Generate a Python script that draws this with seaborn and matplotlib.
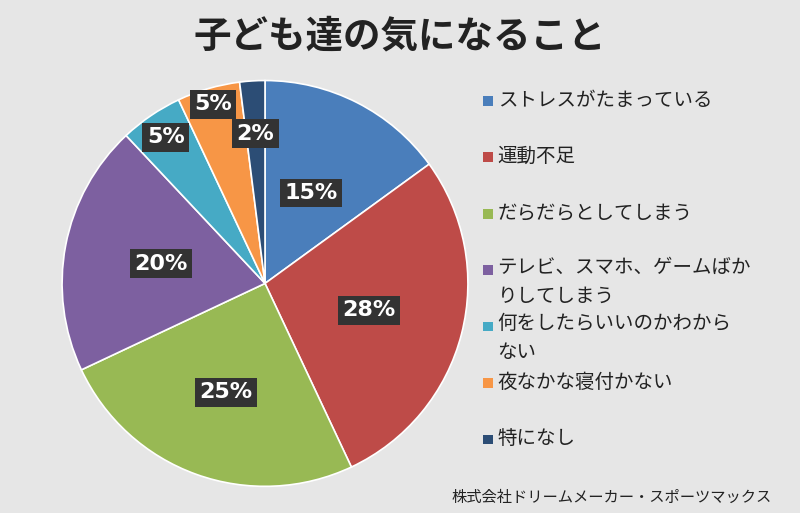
import numpy as np
import matplotlib.pyplot as plt
import matplotlib.patches as mpatches
import seaborn as sns

sns.set_theme(style='white')
plt.rcParams['font.family'] = 'Noto Sans CJK JP'

# ── data ─────────────────────────────────────────────
categories = ['ストレスがたまっている', '運動不足', 'だらだらとしてしまう',
              'テレビ、スマホ、ゲームばか\nりしてしまう', '何をしたらいいのかわから\nない',
              '夜なかな寝付かない', '特になし']
values = [15, 28, 25, 20, 5, 5, 2]
label_radius = [0.50, 0.53, 0.57, 0.52, 0.87, 0.92, 0.74]
colours = ['#4a7ebb', '#be4b48', '#98b954', '#7d60a0', '#46aac5', '#f79646', '#2c4d75']

fig = plt.figure(figsize=(8, 5.13), dpi=100)
fig.patch.set_facecolor('#e6e6e6')

ax = fig.add_axes([0.075, 0.048, 0.5125, 0.799])
wedges, _ = ax.pie(values, colors=colours, startangle=90, counterclock=False,
                   wedgeprops=dict(edgecolor='white', linewidth=1.2))
ax.set_aspect('equal')
ax.set_xlim(-1.01, 1.01)
ax.set_ylim(-1.01, 1.01)

# percentage labels on dark boxes
start = 90.0
total = sum(values)
for v, r in zip(values, label_radius):
    mid = np.deg2rad(start - v / total * 360 / 2)
    start -= v / total * 360
    ax.text(r * np.cos(mid), r * np.sin(mid), f'{v}%', ha='center', va='center',
            color='white', fontsize=16, fontweight='bold', family='DejaVu Sans',
            bbox=dict(boxstyle='square,pad=0.2', facecolor='#333333', edgecolor='none'))

fig.text(0.50, 0.93, '子ども達の気になること', ha='center', va='center',
         fontsize=27, fontweight='bold', color='#222222')

# legend drawn by hand to keep the uniform spacing of the reference
y = 0.805
for cat, col in zip(categories, colours):
    fig.patches.append(mpatches.Rectangle((0.604, y - 0.011), 0.012, 0.019,
                                          transform=fig.transFigure, facecolor=col,
                                          edgecolor='none'))
    if '\n' in cat:
        fig.text(0.622, y + 0.024, cat, ha='left', va='top', fontsize=14,
                 color='#222222', linespacing=1.5)
    else:
        fig.text(0.622, y, cat, ha='left', va='center', fontsize=14, color='#222222')
    y -= 0.110

fig.text(0.965, 0.03, '株式会社ドリームメーカー・スポーツマックス', ha='right', va='center',
         fontsize=11, color='#222222')

fig.savefig('out.png', dpi=100, facecolor=fig.get_facecolor())
